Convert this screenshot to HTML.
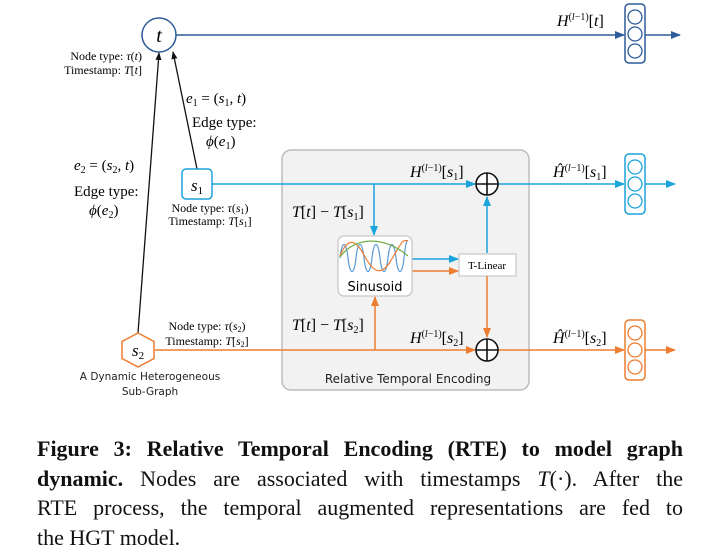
<!DOCTYPE html>
<html><head><meta charset="utf-8"><style>
body{margin:0;background:#fff;width:705px;height:558px;overflow:hidden;position:relative}
svg{position:absolute;left:0;top:0}
.cap{position:absolute;left:37px;top:434px;width:646px;font-family:"Liberation Serif",serif;font-size:22px;line-height:29.6px;color:#111}
.cap div{text-align:justify;text-align-last:justify;white-space:nowrap}
.cap div.l{text-align-last:left}
</style></head><body>
<svg width="705" height="430" viewBox="0 0 705 430" font-family="Liberation Serif, serif">
<defs>
<marker id="ak" markerWidth="8" markerHeight="8" refX="7" refY="4" orient="auto" markerUnits="userSpaceOnUse"><path d="M0,1 L8,4 L0,7z" fill="#111"/></marker>
<marker id="ad" markerWidth="10" markerHeight="8" refX="9" refY="4" orient="auto" markerUnits="userSpaceOnUse"><path d="M0,0 L10,4 L0,8z" fill="#2e5b9a"/></marker>
<marker id="ab" markerWidth="10" markerHeight="8" refX="9" refY="4" orient="auto" markerUnits="userSpaceOnUse"><path d="M0,0 L10,4 L0,8z" fill="#1ba3dc"/></marker>
<marker id="ao" markerWidth="10" markerHeight="8" refX="9" refY="4" orient="auto" markerUnits="userSpaceOnUse"><path d="M0,0 L10,4 L0,8z" fill="#ed7d31"/></marker>
</defs>
<rect x="282" y="150" width="247" height="240" rx="9" fill="#f2f2f2" stroke="#bdbdbd" stroke-width="1.5"/>
<line x1="176" y1="35" x2="624" y2="35" stroke="#2e5b9a" stroke-width="1.5" marker-end="url(#ad)"/>
<line x1="645" y1="35" x2="680" y2="35" stroke="#2e5b9a" stroke-width="1.5" marker-end="url(#ad)"/>
<rect x="625" y="4" width="20" height="59" rx="4" fill="#fff" stroke="#2e5b9a" stroke-width="1.5"/>
<circle cx="635" cy="17" r="7" fill="none" stroke="#2e5b9a" stroke-width="1.3"/>
<circle cx="635" cy="34" r="7" fill="none" stroke="#2e5b9a" stroke-width="1.3"/>
<circle cx="635" cy="51" r="7" fill="none" stroke="#2e5b9a" stroke-width="1.3"/>
<circle cx="159" cy="35" r="17" fill="#fff" stroke="#2e5b9a" stroke-width="1.5"/>
<text x="159" y="42" font-size="20" font-style="italic" text-anchor="middle">t</text>
<line x1="138" y1="333" x2="159" y2="53" stroke="#111" stroke-width="1.3" marker-end="url(#ak)"/>
<line x1="197" y1="169" x2="173" y2="52" stroke="#111" stroke-width="1.3" marker-end="url(#ak)"/>
<g font-size="12" text-anchor="end"><text x="142" y="60">Node type: <tspan font-style="italic">τ</tspan>(<tspan font-style="italic">t</tspan>)</text><text x="142" y="74">Timestamp: <tspan font-style="italic">T</tspan>[<tspan font-style="italic">t</tspan>]</text></g>
<g font-size="15"><text x="186" y="103"><tspan font-style="italic">e</tspan><tspan font-size="10" dy="3">1</tspan><tspan dy="-3"> = (</tspan><tspan font-style="italic">s</tspan><tspan font-size="10" dy="3">1</tspan><tspan dy="-3">, </tspan><tspan font-style="italic">t</tspan>)</text>
<text x="192" y="127">Edge type:</text><text x="206" y="146"><tspan font-style="italic">ϕ</tspan>(<tspan font-style="italic">e</tspan><tspan font-size="10" dy="3">1</tspan><tspan dy="-3">)</tspan></text>
<text x="74" y="170"><tspan font-style="italic">e</tspan><tspan font-size="10" dy="3">2</tspan><tspan dy="-3"> = (</tspan><tspan font-style="italic">s</tspan><tspan font-size="10" dy="3">2</tspan><tspan dy="-3">, </tspan><tspan font-style="italic">t</tspan>)</text>
<text x="74" y="196">Edge type:</text><text x="89" y="215"><tspan font-style="italic">ϕ</tspan>(<tspan font-style="italic">e</tspan><tspan font-size="10" dy="3">2</tspan><tspan dy="-3">)</tspan></text></g>
<line x1="212" y1="184" x2="475" y2="184" stroke="#1ba3dc" stroke-width="1.5" marker-end="url(#ab)"/>
<line x1="498" y1="184" x2="624" y2="184" stroke="#1ba3dc" stroke-width="1.5" marker-end="url(#ab)"/>
<line x1="645" y1="184" x2="675" y2="184" stroke="#1ba3dc" stroke-width="1.5" marker-end="url(#ab)"/>
<line x1="374" y1="184" x2="374" y2="235" stroke="#1ba3dc" stroke-width="1.5" marker-end="url(#ab)"/>
<rect x="182" y="169" width="30" height="30" rx="4" fill="#fff" stroke="#1ba3dc" stroke-width="1.5"/>
<text x="197" y="191" font-size="17" font-style="italic" text-anchor="middle">s<tspan font-size="11" font-style="normal" dy="3">1</tspan></text>
<g font-size="12" text-anchor="middle"><text x="210" y="212">Node type: <tspan font-style="italic">τ</tspan>(<tspan font-style="italic">s</tspan><tspan font-size="8" dy="2">1</tspan><tspan dy="-2">)</tspan></text><text x="210" y="225">Timestamp: <tspan font-style="italic">T</tspan>[<tspan font-style="italic">s</tspan><tspan font-size="8" dy="2">1</tspan><tspan dy="-2">]</tspan></text></g>
<line x1="155" y1="350" x2="475" y2="350" stroke="#ed7d31" stroke-width="1.5" marker-end="url(#ao)"/>
<line x1="498" y1="350" x2="624" y2="350" stroke="#ed7d31" stroke-width="1.5" marker-end="url(#ao)"/>
<line x1="645" y1="350" x2="675" y2="350" stroke="#ed7d31" stroke-width="1.5" marker-end="url(#ao)"/>
<line x1="375" y1="350" x2="375" y2="297" stroke="#ed7d31" stroke-width="1.5" marker-end="url(#ao)"/>
<polygon points="138,333 154,341.5 154,358.5 138,367 122,358.5 122,341.5" fill="#fff" stroke="#ed7d31" stroke-width="1.5"/>
<text x="138" y="356" font-size="17" font-style="italic" text-anchor="middle">s<tspan font-size="11" font-style="normal" dy="3">2</tspan></text>
<g font-size="12" text-anchor="middle"><text x="207" y="330">Node type: <tspan font-style="italic">τ</tspan>(<tspan font-style="italic">s</tspan><tspan font-size="8" dy="2">2</tspan><tspan dy="-2">)</tspan></text><text x="207" y="345">Timestamp: <tspan font-style="italic">T</tspan>[<tspan font-style="italic">s</tspan><tspan font-size="8" dy="2">2</tspan><tspan dy="-2">]</tspan></text></g>
<g font-family="DejaVu Sans, sans-serif" font-size="10.5" fill="#222" text-anchor="middle"><text x="150" y="380">A Dynamic Heterogeneous</text><text x="150" y="395">Sub-Graph</text></g>
<line x1="412" y1="259" x2="458" y2="259" stroke="#1ba3dc" stroke-width="1.5" marker-end="url(#ab)"/>
<line x1="412" y1="271" x2="458" y2="271" stroke="#ed7d31" stroke-width="1.5" marker-end="url(#ao)"/>
<rect x="338" y="236" width="74" height="60" rx="6" fill="#fff" stroke="#c8c8c8" stroke-width="1.3"/>
<path d="M340,258 C342,240 346,240 348,258 S354,276 356,258 S362,240 364,258 S370,276 372,258 S378,240 380,258 S386,276 388,258 S394,240 396,258 S402,276 404,258 S407,240 408,241" fill="none" stroke="#5b9bd5" stroke-width="1.2"/>
<path d="M340,256 C348,236 356,240 364,255 S380,278 390,262 S402,238 408,241" fill="none" stroke="#ed7d31" stroke-width="1.2"/>
<path d="M340,257 C355,236 385,236 408,256" fill="none" stroke="#70ad47" stroke-width="1.2"/>
<text x="375" y="291" font-family="DejaVu Sans, sans-serif" font-size="13" text-anchor="middle">Sinusoid</text>
<rect x="459" y="254" width="57" height="22" fill="#fff" stroke="#c8c8c8" stroke-width="1.2"/>
<text x="487" y="269" font-size="11" text-anchor="middle">T-Linear</text>
<line x1="487" y1="253" x2="487" y2="197" stroke="#1ba3dc" stroke-width="1.5" marker-end="url(#ab)"/>
<line x1="487" y1="276" x2="487" y2="337" stroke="#ed7d31" stroke-width="1.5" marker-end="url(#ao)"/>
<g stroke="#111" stroke-width="1.6" fill="#fff"><circle cx="487" cy="184" r="11"/><line x1="476" y1="184" x2="498" y2="184"/><line x1="487" y1="173" x2="487" y2="195"/>
<circle cx="487" cy="350" r="11"/><line x1="476" y1="350" x2="498" y2="350"/><line x1="487" y1="339" x2="487" y2="361"/></g>
<g font-size="16"><text x="292" y="217"><tspan font-style="italic">T</tspan>[<tspan font-style="italic">t</tspan>] − <tspan font-style="italic">T</tspan>[<tspan font-style="italic">s</tspan><tspan font-size="10" dy="3">1</tspan><tspan dy="-3">]</tspan></text>
<text x="292" y="330"><tspan font-style="italic">T</tspan>[<tspan font-style="italic">t</tspan>] − <tspan font-style="italic">T</tspan>[<tspan font-style="italic">s</tspan><tspan font-size="10" dy="3">2</tspan><tspan dy="-3">]</tspan></text>
<text x="410" y="177"><tspan font-style="italic">H</tspan><tspan font-size="10" dy="-6">(<tspan font-style="italic">l</tspan>−1)</tspan><tspan dy="6">[</tspan><tspan font-style="italic">s</tspan><tspan font-size="10" dy="3">1</tspan><tspan dy="-3">]</tspan></text>
<text x="410" y="343"><tspan font-style="italic">H</tspan><tspan font-size="10" dy="-6">(<tspan font-style="italic">l</tspan>−1)</tspan><tspan dy="6">[</tspan><tspan font-style="italic">s</tspan><tspan font-size="10" dy="3">2</tspan><tspan dy="-3">]</tspan></text>
<text x="553" y="177"><tspan font-style="italic">Ĥ</tspan><tspan font-size="10" dy="-6">(<tspan font-style="italic">l</tspan>−1)</tspan><tspan dy="6">[</tspan><tspan font-style="italic">s</tspan><tspan font-size="10" dy="3">1</tspan><tspan dy="-3">]</tspan></text>
<text x="553" y="343"><tspan font-style="italic">Ĥ</tspan><tspan font-size="10" dy="-6">(<tspan font-style="italic">l</tspan>−1)</tspan><tspan dy="6">[</tspan><tspan font-style="italic">s</tspan><tspan font-size="10" dy="3">2</tspan><tspan dy="-3">]</tspan></text>
<text x="557" y="26"><tspan font-style="italic">H</tspan><tspan font-size="10" dy="-6">(<tspan font-style="italic">l</tspan>−1)</tspan><tspan dy="6">[</tspan><tspan font-style="italic">t</tspan>]</text></g>
<text x="408" y="383" font-family="DejaVu Sans, sans-serif" font-size="12" text-anchor="middle" fill="#222">Relative Temporal Encoding</text>
<rect x="625" y="154" width="20" height="60" rx="4" fill="#fff" stroke="#1ba3dc" stroke-width="1.5"/>
<circle cx="635" cy="167" r="7" fill="none" stroke="#1ba3dc" stroke-width="1.3"/><circle cx="635" cy="184" r="7" fill="none" stroke="#1ba3dc" stroke-width="1.3"/><circle cx="635" cy="201" r="7" fill="none" stroke="#1ba3dc" stroke-width="1.3"/>
<rect x="625" y="320" width="20" height="60" rx="4" fill="#fff" stroke="#ed7d31" stroke-width="1.5"/>
<circle cx="635" cy="333" r="7" fill="none" stroke="#ed7d31" stroke-width="1.3"/><circle cx="635" cy="350" r="7" fill="none" stroke="#ed7d31" stroke-width="1.3"/><circle cx="635" cy="367" r="7" fill="none" stroke="#ed7d31" stroke-width="1.3"/>
</svg>
<div class="cap">
<div><b>Figure 3: Relative Temporal Encoding (RTE) to model graph</b></div>
<div><b>dynamic.</b> Nodes are associated with timestamps <i>T</i>(·). After the</div>
<div>RTE process, the temporal augmented representations are fed to</div>
<div class="l">the HGT model.</div>
</div>
</body></html>
